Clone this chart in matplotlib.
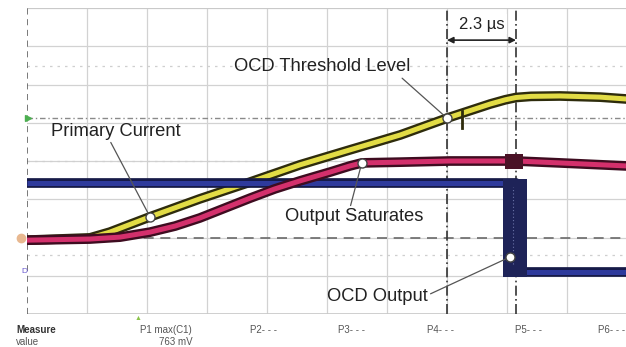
import numpy as np
import matplotlib
matplotlib.use("Agg")
import matplotlib.pyplot as plt

plt.rcParams['font.family'] = ['Liberation Sans', 'DejaVu Sans']

# ---- data (time in divisions, amplitude in divisions) ----
yellow_t = [0.0, 1.05, 1.38, 2.05, 2.88, 3.72, 4.55, 5.38, 6.22, 7.0, 7.72, 7.97, 8.15, 8.4, 8.88, 9.55, 10.0]
yellow_v = [-2.07, -2.01, -1.86, -1.46, -0.99, -0.55, -0.10, 0.29, 0.68, 1.12, 1.49, 1.60, 1.66, 1.69, 1.70, 1.67, 1.62]

pink_t = [0.0, 1.05, 1.55, 2.05, 2.47, 2.88, 3.3, 3.72, 4.13, 4.55, 5.05, 5.38, 5.58, 6.22, 7.05, 8.15, 8.88, 10.0]
pink_v = [-2.07, -2.04, -1.99, -1.86, -1.70, -1.49, -1.23, -0.97, -0.73, -0.52, -0.29, -0.13, -0.05, -0.03, 0.0, 0.0, -0.05, -0.13]

blue_t = [0.0, 8.15, 8.15, 10.0]
blue_v = [-0.58, -0.58, -2.90, -2.90]

threshold_level = 1.12
ref_level = -2.0
cursor_t = [7.0, 8.15]
delay_label = "2.3 µs"

annotations = [
    # label, trace, time of marker
    ("OCD Threshold Level", "yellow", 7.0),
    ("Primary Current", "yellow", 2.05),
    ("Output Saturates", "pink", 5.58),
    ("OCD Output", "blue", 8.05),
]
ocd_marker_v = -2.51

measure_labels = ["P1 max(C1)", "P2- - -", "P3- - -", "P4- - -", "P5- - -", "P6- - -"]
measure_values = ["763 mV", "", "", "", "", ""]

# ---- figure ----
fig = plt.figure(figsize=(6.26, 3.47), dpi=100)
ax = fig.add_axes([27/626, 33/347, 600/626, 306/347])
ax.set_xlim(0, 10)
ax.set_ylim(-4, 4)
for s in ax.spines.values():
    s.set_visible(False)
ax.set_xticks([]); ax.set_yticks([])

gridc = "#d2d2d2"
for i in range(1, 11):
    ax.axvline(i, color=gridc, lw=0.9, zorder=0)
for j in range(-4, 5):
    ax.axhline(j, color=gridc, lw=0.9, zorder=0)
ax.axhline(4, color="#c8c8c8", lw=1.2, zorder=0)
ax.axhline(-4, color="#c8c8c8", lw=1.2, zorder=0)
ax.axvline(0, color="#555555", lw=1.1, dashes=(4, 3), zorder=1)

# faint dotted levels
for lv in [2.48, 0.0, -2.46]:
    ax.axhline(lv, color="#cfcfcf", lw=0.9, dashes=(2, 4), zorder=0.5)
# threshold dotted line
ax.axhline(threshold_level, color="#8a8a8a", lw=1.0, dashes=(4, 2, 1, 2), zorder=1)
# reference dashed line
ax.axhline(ref_level, color="#6a6a6a", lw=1.2, dashes=(6, 4), zorder=1)
# cursors
for c in cursor_t:
    ax.axvline(c, color="#333333", lw=1.2, dashes=(6, 2, 1, 2), zorder=1)

def trace(t, v, core, edge, z):
    ax.plot(t, v, color=edge, lw=7.0, solid_capstyle='butt', solid_joinstyle='round', zorder=z)
    ax.plot(t, v, color=core, lw=3.6, solid_capstyle='butt', solid_joinstyle='round', zorder=z + 0.1)

trace(yellow_t, yellow_v, "#e2dc45", "#2e2c0c", 3)
trace(blue_t, blue_v, "#2e3a9c", "#161a48", 4)
trace(pink_t, pink_v, "#d3306c", "#3e0c20", 5)

# noisy switching band on OCD output
ax.fill_betweenx([min(blue_v) - 0.12, max(blue_v) + 0.1], cursor_t[1] - 0.22, cursor_t[1] + 0.18,
                 color="#1e2358", zorder=4.5, lw=0)
ax.plot([cursor_t[1] - 0.05] * 2, [min(blue_v) + 0.2, max(blue_v) - 0.1], color="#6a72a8",
        lw=0.8, dashes=(1, 2), zorder=4.6)
pink_at = np.interp(cursor_t[1], pink_t, pink_v)
ax.fill_betweenx([pink_at - 0.22, pink_at + 0.18], cursor_t[1] - 0.18, cursor_t[1] + 0.12,
                 color="#4a1226", zorder=5.5, lw=0)
ax.plot([cursor_t[0] + 0.25] * 2, [threshold_level - 0.25, threshold_level + 0.2], color="#2e2c0c", lw=2, zorder=3.5)

series = {"yellow": (yellow_t, yellow_v), "pink": (pink_t, pink_v), "blue": (blue_t, blue_v)}
text_pos = {
    "OCD Threshold Level": ((4.92, 2.46), (0.93, 0.05)),
    "Primary Current": ((1.48, 0.78), (0.45, 0.0)),
    "Output Saturates": ((5.45, -1.46), (0.47, 1.0)),
    "OCD Output": ((5.84, -3.55), (1.0, 0.6)),
}
for label, tr, tm in annotations:
    t, v = series[tr]
    mv = ocd_marker_v if tr == "blue" else np.interp(tm, t, v)
    (tx, ty), rel = text_pos[label]
    ax.annotate(label, xy=(tm, mv), xytext=(tx, ty), ha="center", va="center",
                fontsize=13.2, color="#222222", zorder=8,
                arrowprops=dict(arrowstyle="-", color="#555555", lw=0.9,
                                shrinkA=0, shrinkB=3, relpos=rel))
    ax.plot([tm], [mv], "o", ms=6.5, mfc="white", mec="#444444", mew=1.0, zorder=9)

# delay arrow
ax.annotate("", xy=(cursor_t[0], 3.16), xytext=(cursor_t[1], 3.16),
            arrowprops=dict(arrowstyle="<|-|>", color="#222222", lw=1.2, mutation_scale=9,
                            shrinkA=0, shrinkB=0), zorder=7)
ax.text((cursor_t[0] + cursor_t[1]) / 2, 3.58, delay_label, ha="center", va="center",
        fontsize=12, color="#222222", zorder=8,
        bbox=dict(boxstyle="square,pad=0.15", fc="white", ec="none"))

# channel markers on the left
ax.plot([0.02], [threshold_level], marker=">", ms=4, color="#4caf50", clip_on=False, zorder=9)
ax.plot([-0.1], [-2.0], marker="o", ms=6, color="#e8b890", clip_on=False, zorder=9)
ax.text(-0.05, -2.9, "D", ha="center", va="center", fontsize=6, color="#6a5ad0", clip_on=False)

# measurement bar
fig.text(16/626, 1 - 330/347, "Measure", fontsize=7, fontweight="bold", color="#333333", va="center")
fig.text(16/626, 1 - 342/347, "value", fontsize=7, color="#555555", va="center")
mx = [140, 250, 338, 427, 515, 598]
for x, lab, val in zip(mx, measure_labels, measure_values):
    fig.text(x/626, 1 - 330/347, lab, fontsize=7, color="#555555", va="center")
    if val:
        fig.text(193/626, 1 - 342/347, val, fontsize=7, color="#555555", va="center", ha="right")
fig.text(138/626, 1 - 318/347, "▲", fontsize=5, color="#8bc34a", ha="center", va="center")

fig.savefig("out.png", dpi=100)
